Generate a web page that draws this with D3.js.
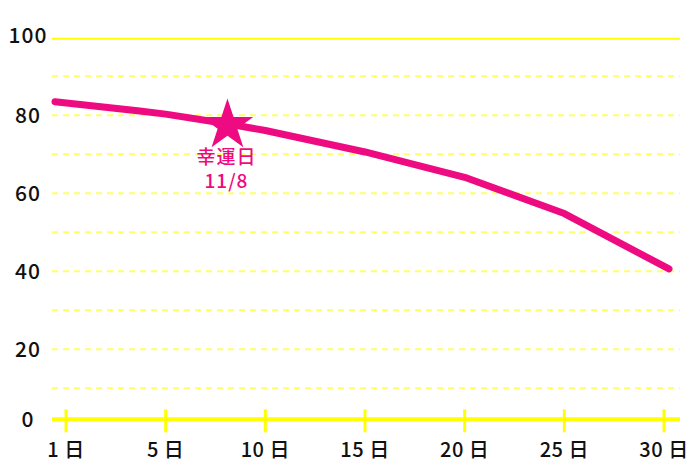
<!DOCTYPE html>
<html><head><meta charset="utf-8">
<script src="https://cdn.jsdelivr.net/npm/d3@7"></script>
<style>body{margin:0;background:#fff}svg{display:block}</style>
</head><body><svg id="c" width="700" height="467"></svg>
<script>
const yTicks = [0, 20, 40, 60, 80, 100];
const gridValues = [10, 20, 30, 40, 50, 60, 70, 80, 90];
const xTickDays = [0, 5, 10, 15, 20, 25, 30];
const xTickLabels = ["1 日", "5 日", "10 日", "15 日", "20 日", "25 日", "30 日"];
const lineDays = [-0.55, 3.7, 5, 8, 10, 15, 20, 25, 30.25];
const lineValues = [83.5, 81.1, 80.3, 77.9, 76.1, 70.6, 64.1, 54.8, 40.6];
const luckyDay = 8.1;
const luckyValue = 77.4;
const luckyLabel = ["幸運日", "11/8"];

const svg = d3.select("#c");
const x = d3.scaleLinear().domain([0, 30]).range([66, 664]);
const y = d3.scaleLinear().domain([0, 100]).range([427.3, 37.3]);
const left = 52, right = 680;
const axisY = y(0) - 8;
const pink = "#EE0A80", yellow = "#FFFF00";
const font = "'Noto Sans CJK JP', 'Noto Sans', sans-serif";

// dashed grid
svg.append("g").selectAll("line").data(gridValues).join("line")
  .attr("x1", left).attr("x2", right)
  .attr("y1", d => y(d)).attr("y2", d => y(d))
  .attr("stroke", "#FFFF66").attr("stroke-width", 2)
  .attr("stroke-dasharray", "6,5");
// top solid line
svg.append("line").attr("x1", left).attr("x2", right)
  .attr("y1", y(100) + 1.4).attr("y2", y(100) + 1.4)
  .attr("stroke", yellow).attr("stroke-width", 2);

// y labels
svg.append("g").selectAll("text").data(yTicks).join("text")
  .attr("x", 28).attr("y", d => d === 0 ? axisY : (d === 100 ? y(d) - 1.5 : y(d)))
  .attr("dy", "0.36em").attr("text-anchor", "middle")
  .attr("font-family", font).attr("font-weight", 500)
  .attr("font-size", 21).attr("letter-spacing", 1).attr("fill", "#111").text(d => d);

// x axis
svg.append("line").attr("x1", left).attr("x2", right)
  .attr("y1", axisY).attr("y2", axisY)
  .attr("stroke", yellow).attr("stroke-width", 4);
svg.append("g").selectAll("line").data(xTickDays).join("line")
  .attr("x1", d => x(d)).attr("x2", d => x(d))
  .attr("y1", axisY - 10).attr("y2", axisY + 13)
  .attr("stroke", yellow).attr("stroke-width", 3);
svg.append("g").selectAll("text").data(xTickDays).join("text")
  .attr("x", d => x(d)).attr("y", 457)
  .attr("text-anchor", "middle")
  .attr("font-family", font).attr("font-weight", 500)
  .attr("font-size", 20).attr("letter-spacing", 0.5).attr("fill", "#111")
  .text((d, i) => xTickLabels[i]);

// line
const pts = lineDays.map((d, i) => [d, lineValues[i]]);
svg.append("path").datum(pts)
  .attr("d", d3.line().x(d => x(d[0])).y(d => y(d[1])).curve(d3.curveLinear))
  .attr("fill", "none").attr("stroke", pink).attr("stroke-width", 7)
  .attr("stroke-linecap", "round").attr("stroke-linejoin", "round");

// star
const cx = x(luckyDay), cy = y(luckyValue) - 1;
svg.append("path")
  .attr("d", d3.symbol().type(d3.symbolStar).size(820)())
  .attr("transform", `translate(${cx},${cy + 1})`)
  .attr("fill", pink);

svg.append("g").selectAll("text").data(luckyLabel).join("text")
  .attr("x", cx - 1).attr("y", (d, i) => cy + 40 + i * 24)
  .attr("text-anchor", "middle")
  .attr("font-family", font).attr("font-weight", 500)
  .attr("font-size", 19).attr("letter-spacing", 1).attr("fill", pink).text(d => d);
</script></body></html>
